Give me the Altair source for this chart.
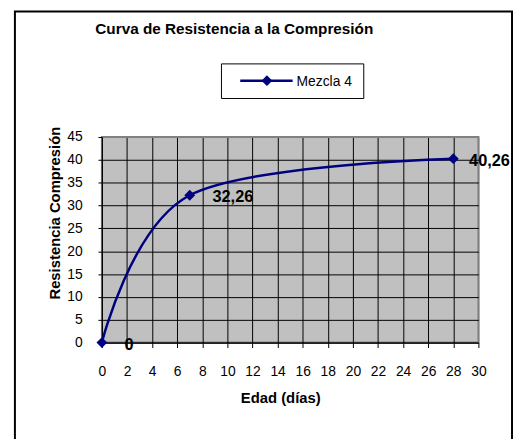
import altair as alt
import pandas as pd

# Data
dias = [0, 7, 28]
resistencia = [0, 32.26, 40.26]
etiquetas = ["0", "32,26", "40,26"]
serie = "Mezcla 4"
titulo = "Curva de Resistencia a la Compresión"
titulo_x = "Edad (días)"
titulo_y = "Resistencia Compresión"
x_ticks = list(range(0, 31, 2))
y_ticks = list(range(0, 46, 5))

df = pd.DataFrame({"dias": dias, "res": resistencia, "lab": etiquetas})

FONT = "Liberation Sans"
NAVY = "#000080"

xs = alt.Scale(domain=[0, 30], nice=False)
ys = alt.Scale(domain=[0, 45], nice=False)

x_axis = alt.Axis(values=x_ticks, title=None, tickSize=5, labelPadding=17,
                  labelFontSize=14, labelFont=FONT, labelColor="black", labelOverlap=False,
                  labelFlush=False, labelBound=False,
                  domainColor="black", tickColor="black", labelAngle=0,
                  gridColor={"condition": {"test": "datum.value == 30", "value": "#808080"}, "value": "black"})
y_axis = alt.Axis(values=y_ticks, title=None, tickSize=4, labelPadding=16,
                  labelFontSize=14, labelFont=FONT, labelColor="black", labelOverlap=False,
                  labelFlush=False, labelBound=False,
                  domainColor="black", tickColor="black",
                  gridColor={"condition": {"test": "datum.value == 45", "value": "#808080"}, "value": "black"})

X = alt.X("dias:Q", scale=xs, axis=x_axis)
Y = alt.Y("res:Q", scale=ys, axis=y_axis)

base = alt.Chart(df)

line = base.mark_line(interpolate="cardinal", color=NAVY, strokeWidth=2.5).encode(x=X, y=Y)
pts = base.mark_point(shape="diamond", filled=True, size=120, color=NAVY, opacity=1).encode(x=X, y=Y)
labs1 = base.transform_filter("datum.dias < 28").mark_text(
    align="left", baseline="middle", dx=23, dy=2, font=FONT, fontSize=16.5, fontWeight="bold", color="black"
).encode(x=X, y=Y, text="lab:N")
labs2 = base.transform_filter("datum.dias >= 28").mark_text(
    align="left", baseline="middle", dx=16, dy=2, font=FONT, fontSize=16.5, fontWeight="bold", color="black"
).encode(x=X, y=Y, text="lab:N")

one = alt.Data(values=[{}])

border = alt.Chart(one).mark_rect(fill=None, stroke="black", strokeWidth=2).encode(
    x=alt.value(-88), x2=alt.value(415), y=alt.value(-127), y2=alt.value(320)
)
title_t = alt.Chart(one).mark_text(font=FONT, fontSize=15.5, fontWeight="bold", align="center",
                                   baseline="middle", color="black").encode(
    x=alt.value(134), y=alt.value(-109), text=alt.value(titulo))
leg_box = alt.Chart(one).mark_rect(fill="white", stroke="black", strokeWidth=1).encode(
    x=alt.value(121), x2=alt.value(265), y=alt.value(-74), y2=alt.value(-39))
leg_line = alt.Chart(one).mark_rule(color=NAVY, strokeWidth=2.5).encode(
    x=alt.value(140), x2=alt.value(193), y=alt.value(-57))
leg_pt = alt.Chart(one).mark_point(shape="diamond", filled=True, size=120, color=NAVY, opacity=1).encode(
    x=alt.value(167), y=alt.value(-57))
leg_txt = alt.Chart(one).mark_text(font=FONT, fontSize=14, align="left", baseline="middle", color="black").encode(
    x=alt.value(197), y=alt.value(-56), text=alt.value(serie))
xt = alt.Chart(one).mark_text(font=FONT, fontSize=15, fontWeight="bold", align="center",
                              baseline="middle", color="black").encode(
    x=alt.value(181), y=alt.value(264), text=alt.value(titulo_x))
yt = alt.Chart(one).mark_text(font=FONT, fontSize=15, fontWeight="bold", align="center",
                              baseline="middle", angle=270, color="black").encode(
    x=alt.value(-47), y=alt.value(77), text=alt.value(titulo_y))

chart = alt.layer(line, pts, labs1, labs2, border, title_t, leg_box, leg_line, leg_pt, leg_txt, xt, yt).properties(
    width=381, height=208,
    padding={"left": 95, "top": 128, "right": 35, "bottom": 95},
    autosize=alt.AutoSizeParams(type="none"),
    background="white",
).configure_view(fill="#C0C0C0", stroke="#808080", strokeWidth=2).configure_axis(
    grid=True, gridWidth=1, domainWidth=1, tickWidth=1, gridOpacity=1
)

chart.save("out.html", embed_options={"renderer": "svg", "actions": False})
